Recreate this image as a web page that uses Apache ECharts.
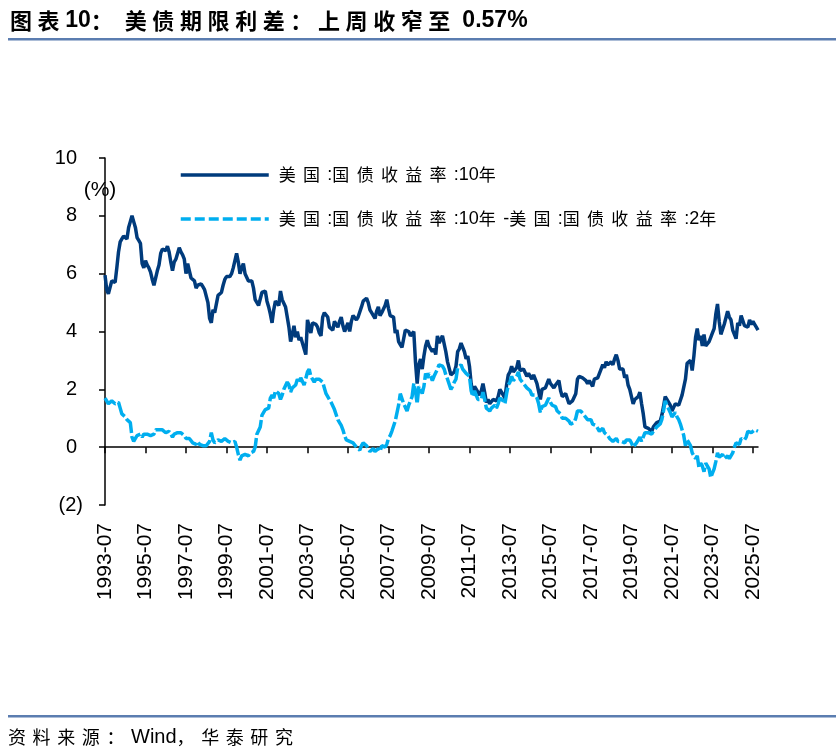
<!DOCTYPE html>
<html>
<head>
<meta charset="utf-8">
<script src="https://cdn.jsdelivr.net/npm/echarts@6/dist/echarts.min.js"></script>
<style>
html,body{margin:0;padding:0;background:#fff;}
#chart{width:836px;height:754px;}
</style>
</head>
<body>
<div id="chart"></div>
<script>
// ---- data (monthly, from 1993-07 to 2025-10) ----
const startYear = 1993, startMonth = 7;
const seriesNames = ['美国:国债收益率:10年', '美国:国债收益率:10年-美国:国债收益率:2年'];
const yield10 = [
  5.95, 5.45, 5.3, 5.35, 5.75, 5.8,                                   // 1993 H2
  5.7, 6.2, 6.75, 7.1, 7.2, 7.3, 7.25, 7.2, 7.6, 7.8, 8.0, 7.8,        // 1994
  7.6, 7.25, 7.15, 7.05, 6.35, 6.2, 6.45, 6.3, 6.2, 6.05, 5.8, 5.6,    // 1995
  5.6, 6.1, 6.3, 6.7, 6.85, 6.9, 6.8, 6.95, 6.75, 6.4, 6.1, 6.4,       // 1996
  6.5, 6.55, 6.9, 6.75, 6.65, 6.5, 6.0, 6.35, 6.1, 5.85, 5.9, 5.75,    // 1997
  5.5, 5.6, 5.65, 5.65, 5.55, 5.45, 5.5, 5.0, 4.45, 4.3, 4.75, 4.65,   // 1998
  4.65, 5.25, 5.25, 5.35, 5.6, 5.8, 5.9, 5.95, 5.9, 6.0, 6.2, 6.45,    // 1999
  6.7, 6.4, 6.0, 6.2, 6.35, 6.0, 6.05, 5.75, 5.8, 5.75, 5.5, 5.1,      // 2000
  5.15, 4.9, 4.9, 5.35, 5.4, 5.4, 5.05, 4.85, 4.6, 4.3, 4.75, 5.05,    // 2001
  5.05, 4.9, 5.4, 5.1, 5.05, 4.85, 4.5, 4.15, 3.65, 3.9, 4.2, 3.8,     // 2002
  4.0, 3.7, 3.8, 3.85, 3.4, 3.2, 4.4, 4.45, 3.95, 4.3, 4.35, 4.25,     // 2003
  4.15, 3.95, 3.85, 4.5, 4.65, 4.6, 4.5, 4.15, 4.15, 4.05, 4.35, 4.25, // 2004
  4.15, 4.35, 4.5, 4.2, 4.0, 3.95, 4.3, 4.0, 4.35, 4.55, 4.5, 4.4,     // 2005
  4.5, 4.55, 4.85, 5.05, 5.1, 5.15, 5.0, 4.75, 4.65, 4.6, 4.45, 4.7,   // 2006
  4.85, 4.55, 4.65, 4.65, 4.9, 5.1, 4.8, 4.55, 4.6, 4.5, 3.95, 4.05,   // 2007
  3.65, 3.55, 3.45, 3.75, 4.05, 4.1, 4.0, 3.85, 3.85, 4.0, 2.95, 2.2,  // 2008
  2.85, 3.05, 2.7, 3.15, 3.5, 3.7, 3.5, 3.4, 3.3, 3.4, 3.2, 3.85,      // 2009
  3.6, 3.6, 3.85, 3.8, 3.3, 2.95, 2.9, 2.5, 2.5, 2.6, 2.8, 3.3,        // 2010
  3.4, 3.6, 3.45, 3.3, 3.05, 3.15, 2.8, 2.2, 1.9, 2.1, 2.05, 1.9,      // 2011
  1.8, 1.95, 2.2, 1.9, 1.55, 1.65, 1.5, 1.55, 1.65, 1.7, 1.6, 1.75,    // 2012
  2.0, 1.9, 1.85, 1.7, 2.15, 2.5, 2.6, 2.8, 2.6, 2.55, 2.75, 3.0,      // 2013
  2.65, 2.65, 2.7, 2.65, 2.45, 2.55, 2.55, 2.35, 2.5, 2.35, 2.2, 2.2,  // 2014
  1.65, 2.0, 1.95, 2.05, 2.1, 2.35, 2.2, 2.2, 2.05, 2.15, 2.2, 2.3,    // 2015
  1.95, 1.75, 1.8, 1.85, 1.85, 1.5, 1.45, 1.6, 1.6, 1.85, 2.35, 2.45,  // 2016
  2.45, 2.4, 2.4, 2.3, 2.2, 2.3, 2.3, 2.1, 2.35, 2.4, 2.4, 2.4,        // 2017
  2.7, 2.85, 2.75, 2.95, 2.85, 2.85, 2.95, 2.85, 3.05, 3.2, 3.0, 2.7,  // 2018
  2.65, 2.7, 2.4, 2.5, 2.15, 2.0, 2.0, 1.5, 1.65, 1.7, 1.75, 1.9,      // 2019
  1.5, 1.15, 0.7, 0.65, 0.65, 0.65, 0.55, 0.7, 0.7, 0.85, 0.85, 0.9,   // 2020
  1.1, 1.4, 1.75, 1.65, 1.6, 1.45, 1.25, 1.3, 1.5, 1.55, 1.45, 1.5,    // 2021
  1.8, 1.85, 2.35, 2.9, 2.85, 3.0, 2.65, 3.15, 3.8, 4.1, 3.7, 3.85,    // 2022
  3.5, 3.9, 3.5, 3.45, 3.65, 3.8, 3.95, 4.1, 4.6, 4.95, 4.35, 3.9,     // 2023
  3.95, 4.25, 4.2, 4.7, 4.5, 4.4, 4.05, 3.9, 3.75, 4.3, 4.2, 4.55,     // 2024
  4.6, 4.2, 4.25, 4.15, 4.4, 4.25, 4.35, 4.25, 4.15, 4.05              // 2025 Jan-Oct
];
const spread10y2y = [
  1.7, 1.6, 1.5, 1.55, 1.6, 1.55,                                      // 1993 H2
  1.5, 1.5, 1.55, 1.35, 1.15, 1.1, 1.05, 0.95, 1.0, 0.85, 0.35, 0.2,   // 1994
  0.3, 0.4, 0.45, 0.45, 0.35, 0.45, 0.5, 0.45, 0.45, 0.4, 0.35, 0.45,  // 1995
  0.6, 0.65, 0.6, 0.6, 0.6, 0.55, 0.5, 0.55, 0.55, 0.45, 0.35, 0.45,   // 1996
  0.5, 0.5, 0.5, 0.5, 0.45, 0.4, 0.3, 0.35, 0.3, 0.25, 0.15, 0.2,      // 1997
  0.1, 0.2, 0.1, 0.1, 0.05, 0.0, 0.05, 0.05, 0.2, 0.5, 0.25, 0.15,     // 1998
  0.15, 0.25, 0.25, 0.2, 0.25, 0.3, 0.25, 0.2, 0.15, 0.15, 0.1, 0.2,   // 1999
  0.0, -0.25, -0.45, -0.3, -0.35, -0.25, -0.2, -0.3, -0.2, -0.15, -0.15, 0.0, // 2000
  0.45, 0.45, 0.7, 1.1, 1.2, 1.3, 1.3, 1.35, 1.7, 1.8, 1.7, 1.95,      // 2001
  1.95, 1.85, 1.65, 1.8, 2.0, 2.05, 2.25, 2.15, 1.9, 2.05, 2.1, 2.15,  // 2002
  2.35, 2.25, 2.4, 2.35, 2.15, 2.2, 2.6, 2.7, 2.45, 2.5, 2.25, 2.35,   // 2003
  2.3, 2.35, 2.3, 2.25, 2.05, 1.85, 1.85, 1.65, 1.55, 1.5, 1.3, 1.25,  // 2004
  0.95, 0.85, 0.75, 0.6, 0.4, 0.25, 0.25, 0.2, 0.15, 0.15, 0.1, 0.0,   // 2005
  0.05, -0.1, 0.05, 0.15, 0.1, 0.05, -0.05, -0.15, -0.1, -0.05, -0.15, -0.1, // 2006
  -0.05, -0.15, 0.05, 0.05, 0.0, 0.1, 0.3, 0.4, 0.55, 0.5, 0.9, 0.95,  // 2007
  1.45, 1.85, 1.8, 1.5, 1.45, 1.25, 1.45, 1.5, 1.75, 2.2, 1.95, 1.5,   // 2008
  2.1, 2.0, 1.85, 2.1, 2.55, 2.4, 2.55, 2.45, 2.3, 2.45, 2.5, 2.7,     // 2009
  2.85, 2.9, 2.8, 2.7, 2.5, 2.35, 2.35, 2.0, 2.1, 2.25, 2.35, 2.75,    // 2010
  2.75, 2.85, 2.7, 2.65, 2.55, 2.6, 2.45, 1.95, 1.75, 1.95, 1.8, 1.65, // 2011
  1.65, 1.65, 1.9, 1.65, 1.35, 1.35, 1.25, 1.35, 1.4, 1.45, 1.35, 1.5, // 2012
  1.7, 1.65, 1.6, 1.5, 1.85, 2.15, 2.25, 2.45, 2.3, 2.25, 2.45, 2.6,   // 2013
  2.35, 2.35, 2.2, 2.2, 2.05, 2.0, 1.95, 1.8, 1.85, 1.8, 1.7, 1.5,     // 2014
  1.2, 1.4, 1.4, 1.45, 1.5, 1.7, 1.55, 1.45, 1.4, 1.4, 1.25, 1.2,      // 2015
  1.15, 1.0, 1.0, 1.0, 0.95, 0.9, 0.8, 0.8, 0.85, 1.0, 1.25, 1.25,     // 2016
  1.25, 1.2, 1.1, 1.05, 0.95, 0.9, 0.95, 0.8, 0.85, 0.75, 0.65, 0.55,  // 2017
  0.55, 0.65, 0.5, 0.45, 0.4, 0.3, 0.3, 0.2, 0.25, 0.3, 0.2, 0.15,     // 2018
  0.2, 0.2, 0.15, 0.25, 0.2, 0.25, 0.15, 0.0, 0.05, 0.15, 0.2, 0.35,   // 2019
  0.2, 0.25, 0.5, 0.45, 0.5, 0.5, 0.45, 0.55, 0.55, 0.7, 0.7, 0.8,     // 2020
  0.95, 1.25, 1.6, 1.45, 1.45, 1.2, 1.05, 1.05, 1.2, 1.05, 0.95, 0.8,  // 2021
  0.6, 0.4, 0.05, 0.25, 0.3, 0.05, -0.2, -0.3, -0.4, -0.3, -0.7, -0.55, // 2022
  -0.65, -0.85, -0.55, -0.55, -0.75, -1.05, -0.9, -0.75, -0.5, -0.2, -0.35, -0.35, // 2023
  -0.25, -0.4, -0.4, -0.3, -0.4, -0.35, -0.2, 0.0, 0.15, 0.15, 0.1, 0.3, // 2024
  0.35, 0.25, 0.35, 0.55, 0.5, 0.5, 0.5, 0.6, 0.55, 0.55               // 2025 Jan-Oct
];
const yMin = -2, yMax = 10, yStep = 2;
const labelEvery = 24; // months between x labels
const titleText = '图表10： 美债期限利差：上周收窄至 0.57%';
const sourceText = '资料来源：Wind，华泰研究';
const unitText = '(%)';

// month categories
const months = [];
for (let i = 0; i < yield10.length; i++) {
  const t = (startYear * 12 + startMonth - 1) + i;
  const y = Math.floor(t / 12), m = t % 12 + 1;
  months.push(y + '-' + (m < 10 ? '0' + m : m));
}

// rich-text helper: each CJK glyph in its own fixed-width box (wide spacing like the source)
function spacedRich(text, p) {
  let out = '', buf = '';
  const flush = () => { if (buf) { out += '{' + p + 'A|' + buf + '}'; buf = ''; } };
  for (const ch of text) {
    if (/[\u2E80-\u9FFF\uFF00-\uFFEF\u3000-\u303F]/.test(ch)) { flush(); out += '{' + p + 'C|' + ch + '}'; }
    else buf += ch;
  }
  flush();
  return out;
}

const LAT = '"Liberation Sans", Arial, sans-serif';
const CJK = '"Noto Sans CJK SC", sans-serif';
const navy = '#003B7C', sky = '#00AEEF', rule = '#5B7DB0';

const chart = echarts.init(document.getElementById('chart'), null, { renderer: 'canvas' });
chart.setOption({
  animation: false,
  backgroundColor: '#fff',
  grid: { left: 105, right: 78, top: 158, bottom: 249, containLabel: false, outerBoundsMode: 'none' },
  legend: {
    orient: 'vertical', left: 179, top: 165, padding: 0, itemWidth: 88, itemHeight: 14, itemGap: 24,
    itemStyle: { opacity: 0 },
    data: [
      { name: seriesNames[0], lineStyle: { width: 3.5, type: 'solid' } },
      { name: seriesNames[1], lineStyle: { width: 3.5, type: [10, 4] } }
    ],
    formatter: function (name) { return spacedRich(name, 'l'); },
    textStyle: {
      fontSize: 17, color: '#000', lineHeight: 20, padding: [0, 0, 0, 5],
      rich: {
        lC: { fontFamily: CJK, fontSize: 17, width: 24.3, color: '#000' },
        lA: { fontFamily: LAT, fontSize: 18, color: '#000' }
      }
    }
  },
  xAxis: [
    {
      type: 'category', data: months, boundaryGap: false, position: 'bottom',
      axisLine: { show: true, onZero: true, lineStyle: { color: '#000', width: 1.5 } },
      axisTick: { show: true, length: 6, interval: function (i) { return i % labelEvery === 0; }, lineStyle: { color: '#000', width: 1.5 } },
      axisLabel: { show: false },
      splitLine: { show: false }
    },
    {
      type: 'category', data: months, boundaryGap: false, position: 'bottom',
      axisLine: { show: false, onZero: false },
      axisTick: { show: false },
      axisLabel: {
        show: true, rotate: 90, margin: 18, color: '#000', fontFamily: LAT, fontSize: 21,
        interval: function (i) { return i % labelEvery === 0; }
      },
      splitLine: { show: false }
    }
  ],
  yAxis: {
    type: 'value', min: yMin, max: yMax, interval: yStep,
    axisLine: { show: true, lineStyle: { color: '#000', width: 1.5 } },
    axisTick: { show: true, length: 6, lineStyle: { color: '#000', width: 1.5 } },
    axisLabel: {
      color: '#000', fontFamily: LAT, fontSize: 20, margin: 22,
      formatter: function (v) { return v < 0 ? '{n|(' + Math.abs(v) + ')}' : '{p|' + v + '}'; },
      rich: {
        p: { fontFamily: LAT, fontSize: 20, color: '#000', padding: [0, 6, 0, 0] },
        n: { fontFamily: LAT, fontSize: 20, color: '#000' }
      }
    },
    splitLine: { show: false }
  },
  series: [
    {
      name: seriesNames[0], type: 'line', xAxisIndex: 0, data: yield10,
      symbol: 'none', showSymbol: false, color: navy,
      lineStyle: { color: navy, width: 3.5 }
    },
    {
      name: seriesNames[1], type: 'line', xAxisIndex: 0, data: spread10y2y,
      symbol: 'none', showSymbol: false, color: sky,
      lineStyle: { color: sky, width: 3.5, type: [16, 3] }
    }
  ],
  graphic: [
    {
      type: 'text', x: 10, y: 21,
      style: {
        text: spacedRich(titleText, 't'), verticalAlign: 'middle',
        rich: {
          tC: { fontFamily: CJK, fontSize: 22, fontWeight: 'bold', width: 27.6, color: '#000' },
          tA: { fontFamily: LAT, fontSize: 23, fontWeight: 'bold', color: '#000' }
        }
      }
    },
    { type: 'rect', shape: { x: 8, y: 38, width: 828, height: 2.5 }, style: { fill: rule } },
    { type: 'rect', shape: { x: 8, y: 715, width: 828, height: 2.5 }, style: { fill: rule } },
    {
      type: 'text', x: 8, y: 737,
      style: {
        text: spacedRich(sourceText, 's'), verticalAlign: 'middle',
        rich: {
          sC: { fontFamily: CJK, fontSize: 18, width: 24.6, color: '#7F7F7F' },
          sA: { fontFamily: LAT, fontSize: 20, color: '#7F7F7F' }
        }
      }
    },
    {
      type: 'text', x: 100, y: 190,
      style: { text: unitText, align: 'center', verticalAlign: 'middle', fontFamily: LAT, fontSize: 21, fill: '#000' }
    }
  ]
});
</script>
</body>
</html>
